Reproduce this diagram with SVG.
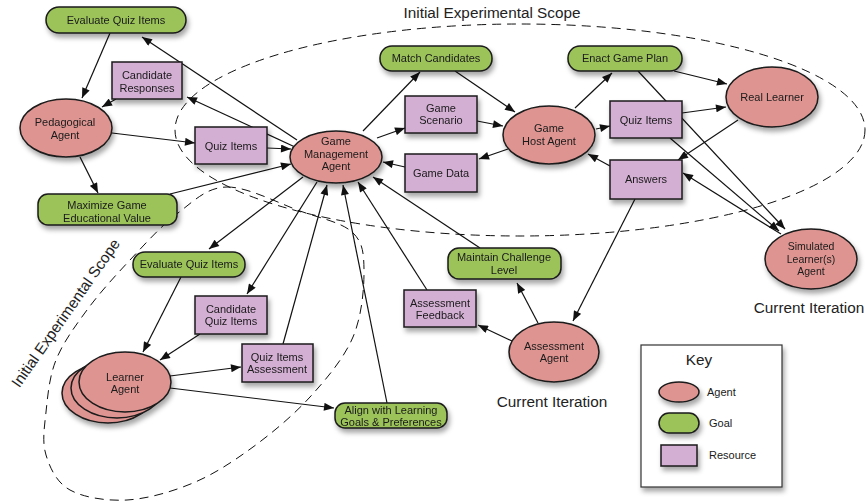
<svg xmlns="http://www.w3.org/2000/svg" width="868" height="503" viewBox="0 0 868 503">
<style>
text{font-family:"Liberation Sans",Arial,sans-serif;fill:#1a1a1a}
.t{font-size:11px;text-anchor:middle}
.big{font-size:15.3px;text-anchor:middle;fill:#222}
.agent{fill:#de9591;stroke:#1a1a1a;stroke-width:1.5}
.goal{fill:#9bc35a;stroke:#1a1a1a;stroke-width:1.5}
.res{fill:#d4afd4;stroke:#1a1a1a;stroke-width:1.5}
.c line{stroke:#111;stroke-width:1.2;fill:none}
.a{marker-end:url(#ah)}
.scope{fill:none;stroke:#111;stroke-width:1;stroke-dasharray:9 6}
</style>
<defs>
<marker id="ah" viewBox="0 0 10 8" refX="10" refY="4" markerWidth="11" markerHeight="8" markerUnits="userSpaceOnUse" orient="auto">
<path d="M0,0 L10,4 L0,8 z" fill="#111"/>
</marker>
<filter id="sh" x="-30%" y="-30%" width="170%" height="180%">
<feDropShadow dx="2" dy="4" stdDeviation="2.5" flood-color="#000" flood-opacity="0.35"/>
</filter>
</defs>
<rect width="868" height="503" fill="#fff"/>

<g id="scopes">
<ellipse class="scope" cx="520" cy="130" rx="345" ry="106"/>
<path class="scope" d="M227,187 C247.3,186.7 279.2,203.5 300,211 C320.8,218.5 341.3,222.2 352,232 C362.7,241.8 363.8,252.5 364,270 C364.2,287.5 362,315.8 353,337 C344,358.2 326.7,378.7 310,397 C293.3,415.3 272.5,432.7 253,447 C233.5,461.3 214,474.2 193,483 C172,491.8 147.5,498.8 127,500 C106.5,501.2 83.5,497.5 70,490 C56.5,482.5 50,468 46,455 C42,442 44.3,427.8 46,412 C47.7,396.2 49.2,377 56,360 C62.8,343 74.7,326.7 87,310 C99.3,293.3 114.8,276.2 130,260 C145.2,243.8 161.8,225.2 178,213 C194.2,200.8 206.7,187.3 227,187 Z"/>
<text class="big" x="492" y="18">Initial Experimental Scope</text>
<text class="big" transform="translate(70,316) rotate(-55)">Initial Experimental Scope</text>
<text class="big" x="809" y="313">Current Iteration</text>
<text class="big" x="552" y="407">Current Iteration</text>
</g>

<g id="connectors" class="c">
<line class="a" x1="297" y1="140" x2="142" y2="37"/>
<line class="a" x1="110" y1="33" x2="82" y2="98"/>
<line class="a" x1="116" y1="99" x2="102" y2="107"/>
<line class="a" x1="295" y1="147" x2="187" y2="97"/>
<line class="a" x1="112" y1="133" x2="195" y2="143"/>
<line class="a" x1="267" y1="148" x2="291" y2="149"/>
<line class="a" x1="80" y1="157" x2="98" y2="193"/>
<line class="a" x1="170" y1="194" x2="291" y2="164"/>
<line class="a" x1="363" y1="131" x2="420" y2="72"/>
<line class="a" x1="377" y1="138" x2="405" y2="128"/>
<line class="a" x1="455" y1="71" x2="515" y2="112"/>
<line class="a" x1="477" y1="121" x2="503" y2="126"/>
<line class="a" x1="508" y1="149" x2="479" y2="159"/>
<line class="a" x1="405" y1="167" x2="383" y2="162"/>
<line class="a" x1="575" y1="108" x2="612" y2="73"/>
<line class="a" x1="596" y1="129" x2="610" y2="126"/>
<line class="a" x1="610" y1="166" x2="588" y2="154"/>
<line class="a" x1="674" y1="71" x2="727" y2="84"/>
<line class="a" x1="682" y1="113" x2="726" y2="107"/>
<line class="a" x1="738" y1="120" x2="678" y2="160"/>
<line class="a" x1="638" y1="71" x2="785" y2="229"/>
<line class="a" x1="670" y1="138" x2="779" y2="231"/>
<line class="a" x1="781" y1="234" x2="683" y2="173"/>
<line class="a" x1="635" y1="199" x2="573" y2="321"/>
<line class="a" x1="538" y1="323" x2="517" y2="283"/>
<line class="a" x1="512" y1="341" x2="478" y2="325"/>
<line class="a" x1="480" y1="248" x2="373" y2="177"/>
<line class="a" x1="427" y1="290" x2="358" y2="182"/>
<line class="a" x1="387" y1="403" x2="343" y2="185"/>
<line class="a" x1="283" y1="344" x2="327" y2="185"/>
<line class="a" x1="303" y1="177" x2="209" y2="249"/>
<line class="a" x1="317" y1="182" x2="247" y2="294"/>
<line class="a" x1="181" y1="277" x2="143" y2="352"/>
<line class="a" x1="200" y1="334" x2="160" y2="360"/>
<line class="a" x1="170" y1="376" x2="241" y2="367"/>
<line class="a" x1="170" y1="388" x2="334" y2="408"/>
</g>

<g id="evaluate-quiz-items-top" filter="url(#sh)">
<rect class="goal" x="46" y="7" width="140" height="26" rx="13"/>
<text class="t" x="116" y="24">Evaluate Quiz Items</text>
</g>
<g id="candidate-responses" filter="url(#sh)">
<rect class="res" x="112" y="62" width="70" height="37"/>
<text class="t" x="147" y="79">Candidate</text>
<text class="t" x="147" y="92">Responses</text>
</g>
<g id="pedagogical-agent" filter="url(#sh)">
<ellipse class="agent" cx="66" cy="128" rx="46" ry="29"/>
<text class="t" x="65" y="126">Pedagogical</text>
<text class="t" x="65" y="139">Agent</text>
</g>
<g id="quiz-items-left" filter="url(#sh)">
<rect class="res" x="195" y="127" width="72" height="37"/>
<text class="t" x="231" y="150">Quiz Items</text>
</g>
<g id="maximize-game-value" filter="url(#sh)">
<rect class="goal" x="38" y="194" width="139" height="31" rx="10"/>
<text class="t" x="107" y="209">Maximize Game</text>
<text class="t" x="107" y="222">Educational Value</text>
</g>
<g id="game-management-agent" filter="url(#sh)">
<ellipse class="agent" cx="336" cy="157" rx="46" ry="26"/>
<text class="t" x="336" y="145">Game</text>
<text class="t" x="336" y="158">Management</text>
<text class="t" x="336" y="170">Agent</text>
</g>
<g id="match-candidates" filter="url(#sh)">
<rect class="goal" x="380" y="46" width="112" height="25" rx="12"/>
<text class="t" x="436" y="62">Match Candidates</text>
</g>
<g id="game-scenario" filter="url(#sh)">
<rect class="res" x="405" y="96" width="72" height="37"/>
<text class="t" x="441" y="112">Game</text>
<text class="t" x="441" y="124">Scenario</text>
</g>
<g id="game-data" filter="url(#sh)">
<rect class="res" x="405" y="154" width="72" height="38"/>
<text class="t" x="441" y="177">Game Data</text>
</g>
<g id="game-host-agent" filter="url(#sh)">
<ellipse class="agent" cx="549" cy="135" rx="46" ry="29"/>
<text class="t" x="549" y="132">Game</text>
<text class="t" x="549" y="145">Host Agent</text>
</g>
<g id="enact-game-plan" filter="url(#sh)">
<rect class="goal" x="568" y="46" width="114" height="25" rx="12"/>
<text class="t" x="625" y="62">Enact Game Plan</text>
</g>
<g id="quiz-items-right" filter="url(#sh)">
<rect class="res" x="610" y="101" width="72" height="37"/>
<text class="t" x="646" y="124">Quiz Items</text>
</g>
<g id="answers" filter="url(#sh)">
<rect class="res" x="610" y="160" width="72" height="39"/>
<text class="t" x="646" y="183">Answers</text>
</g>
<g id="real-learner" filter="url(#sh)">
<ellipse class="agent" cx="772" cy="97" rx="46" ry="30"/>
<text class="t" x="772" y="101">Real Learner</text>
</g>
<g id="simulated-learner-agent" filter="url(#sh)">
<ellipse class="agent" cx="811" cy="259" rx="46" ry="30"/>
<text class="t" x="811" y="250" style="font-size:10.5px">Simulated</text>
<text class="t" x="811" y="263" style="font-size:10.5px">Learner(s)</text>
<text class="t" x="811" y="275" style="font-size:10.5px">Agent</text>
</g>
<g id="evaluate-quiz-items-low" filter="url(#sh)">
<rect class="goal" x="133" y="252" width="112" height="25" rx="12"/>
<text class="t" x="189" y="268">Evaluate Quiz Items</text>
</g>
<g id="candidate-quiz-items" filter="url(#sh)">
<rect class="res" x="195" y="296" width="72" height="38"/>
<text class="t" x="231" y="313">Candidate</text>
<text class="t" x="231" y="325">Quiz Items</text>
</g>
<g id="quiz-items-assessment" filter="url(#sh)">
<rect class="res" x="242" y="344" width="71" height="38"/>
<text class="t" x="277" y="361">Quiz Items</text>
<text class="t" x="277" y="373">Assessment</text>
</g>
<g id="learner-agent" filter="url(#sh)">
<ellipse class="agent" cx="108" cy="393" rx="46" ry="30"/>
<ellipse class="agent" cx="117" cy="388" rx="46" ry="30"/>
<ellipse class="agent" cx="125" cy="382" rx="46" ry="30"/>
<text class="t" x="125" y="381">Learner</text>
<text class="t" x="125" y="393">Agent</text>
</g>
<g id="align-learning-goals" filter="url(#sh)">
<rect class="goal" x="335" y="403" width="112" height="25" rx="10"/>
<text class="t" x="391" y="414">Align with Learning</text>
<text class="t" x="391" y="426">Goals &amp; Preferences</text>
</g>
<g id="assessment-feedback" filter="url(#sh)">
<rect class="res" x="404" y="290" width="72" height="37"/>
<text class="t" x="440" y="307">Assessment</text>
<text class="t" x="440" y="319">Feedback</text>
</g>
<g id="maintain-challenge-level" filter="url(#sh)">
<rect class="goal" x="448" y="248" width="113" height="31" rx="11"/>
<text class="t" x="504" y="261">Maintain Challenge</text>
<text class="t" x="504" y="274">Level</text>
</g>
<g id="assessment-agent" filter="url(#sh)">
<ellipse class="agent" cx="554" cy="352" rx="45" ry="30"/>
<text class="t" x="554" y="350">Assessment</text>
<text class="t" x="554" y="362">Agent</text>
</g>

<g id="key">
<rect x="641" y="345" width="141" height="142" fill="#fff" stroke="#333" stroke-width="1.2" filter="url(#sh)"/>
<text class="big" x="699" y="365">Key</text>
<ellipse class="agent" cx="679" cy="392" rx="20" ry="10" filter="url(#sh)"/>
<text x="707" y="396" style="font-size:11px">Agent</text>
<rect class="goal" x="659" y="413" width="40" height="20" rx="10" filter="url(#sh)"/>
<text x="709" y="427" style="font-size:11px">Goal</text>
<rect class="res" x="661" y="445" width="36" height="21" filter="url(#sh)"/>
<text x="709" y="459" style="font-size:11px">Resource</text>
</g>
</svg>
